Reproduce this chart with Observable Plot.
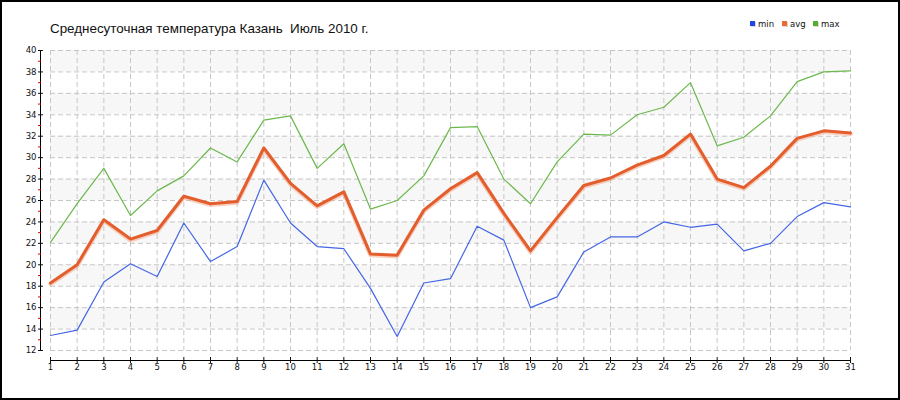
<!DOCTYPE html>
<html><head><meta charset="utf-8">
<script src="https://cdn.jsdelivr.net/npm/d3@7"></script>
<script src="https://cdn.jsdelivr.net/npm/@observablehq/plot@0.6"></script>
<style>body{margin:0;background:#fff} svg{display:block}</style>
</head><body><div id="chart"></div>
<script>
const days = [1,2,3,4,5,6,7,8,9,10,11,12,13,14,15,16,17,18,19,20,21,22,23,24,25,26,27,28,29,30,31];
const minT = [13.4,13.9,18.4,20.1,18.9,23.9,20.3,21.7,27.9,23.9,21.7,21.5,17.8,13.3,18.3,18.7,23.6,22.3,16.0,17.0,21.2,22.6,22.6,24.0,23.5,23.8,21.3,22.0,24.5,25.8,25.4];
const avgT = [18.3,20.0,24.2,22.4,23.2,26.4,25.7,25.9,30.9,27.6,25.5,26.8,21.0,20.9,25.1,27.1,28.6,24.8,21.3,24.4,27.4,28.1,29.3,30.2,32.2,28.0,27.2,29.2,31.8,32.5,32.3];
const maxT = [22.1,25.7,29.0,24.6,26.9,28.3,30.9,29.6,33.5,33.9,29.0,31.3,25.2,26.0,28.3,32.8,32.9,28.0,25.7,29.6,32.2,32.1,34.0,34.7,37.0,31.1,31.9,33.9,37.1,38.0,38.1];
const seriesNames = ["min","avg","max"];
const lineColors = ["#4466e6","#e35e2c","#6cb84c"];
const legendColors = ["#1f45e6","#ec6a36","#52ae2e"];
const yMajor = [12,14,16,18,20,22,24,26,28,30,32,34,36,38,40];
const yMinor = [13,15,17,19,21,23,25,27,29,31,33,35,37,39];
const bandLo = [14,18,22,26,30,34,38];
const bandHi = [16,20,24,28,32,36,40];
const title = "Среднесуточная температура Казань  Июль 2010 г.";

const series = [minT, avgT, maxT];
const rows = days.flatMap((d, i) => seriesNames.map((s, k) => ({day: d, series: s, t: series[k][i]})));
const bands = bandLo.map((lo, i) => ({lo, hi: bandHi[i]}));
const bySeries = s => rows.filter(r => r.series === s);

const grid = {stroke: "#c6c6c6", strokeOpacity: 1, strokeDasharray: "5,3"};

const chart = Plot.plot({
  width: 900, height: 400,
  marginLeft: 50, marginRight: 50, marginTop: 50, marginBottom: 50,
  x: {domain: [1, 31], label: null},
  y: {domain: [12, 40], label: null},
  style: {fontFamily: "DejaVu Sans", fontSize: "8px", background: "#fff", overflow: "visible", color: "#111"},
  marks: [
    Plot.rect(bands, {y1: "lo", y2: "hi", fill: "#f7f7f7"}),
    Plot.gridX(days, grid),
    Plot.gridY(yMajor, grid),
    Plot.frame({anchor: "left", dx: -10, stroke: "#000"}),
    Plot.frame({anchor: "bottom", dy: 10, stroke: "#000"}),
    Plot.axisY(yMajor, {tickSize: 5, dx: -7, tickPadding: 2, label: null, fontSize: 8.5}),
    Plot.axisY(yMinor, {tickSize: 3, dx: -9, stroke: "#e00000", tickFormat: () => "", label: null}),
    Plot.axisX(days, {tickSize: 6, dy: 7, tickPadding: 0, label: null, fontSize: 8.5}),
    Plot.line(bySeries("min"), {x: "day", y: "t", stroke: lineColors[0], strokeWidth: 1.2}),
    Plot.line(bySeries("max"), {x: "day", y: "t", stroke: lineColors[2], strokeWidth: 1.2}),
    Plot.line(bySeries("avg"), {x: "day", y: "t", stroke: "#f2b096", strokeWidth: 4.5, strokeOpacity: 0.6, dy: 1}),
    Plot.line(bySeries("avg"), {x: "day", y: "t", stroke: lineColors[1], strokeWidth: 3})
  ]
});

const svg = d3.select(chart);
svg.append("rect").attr("x", 1).attr("y", 1).attr("width", 898).attr("height", 398)
  .attr("fill", "none").attr("stroke", "#000").attr("stroke-width", 2);
svg.append("text").attr("x", 50).attr("y", 33).text(title).attr("text-anchor", "start")
  .attr("font-family", "Liberation Sans, Arial, sans-serif").attr("font-size", 13.4).attr("fill", "#111");
const legendX = [750, 782, 813];
const leg = svg.append("g").attr("text-anchor", "start");
seriesNames.forEach((s, i) => {
  leg.append("rect").attr("x", legendX[i] + 1).attr("y", 22).attr("width", 5).attr("height", 5).attr("fill", "#d8d8d8");
  leg.append("rect").attr("x", legendX[i]).attr("y", 21).attr("width", 5).attr("height", 5).attr("fill", legendColors[i]);
  leg.append("text").attr("x", legendX[i] + 8).attr("y", 26.5).text(s).attr("text-anchor", "start")
    .attr("font-family", "DejaVu Sans, sans-serif").attr("font-size", 8.5).attr("fill", "#111");
});
document.getElementById("chart").appendChild(chart);
</script>
</body></html>
